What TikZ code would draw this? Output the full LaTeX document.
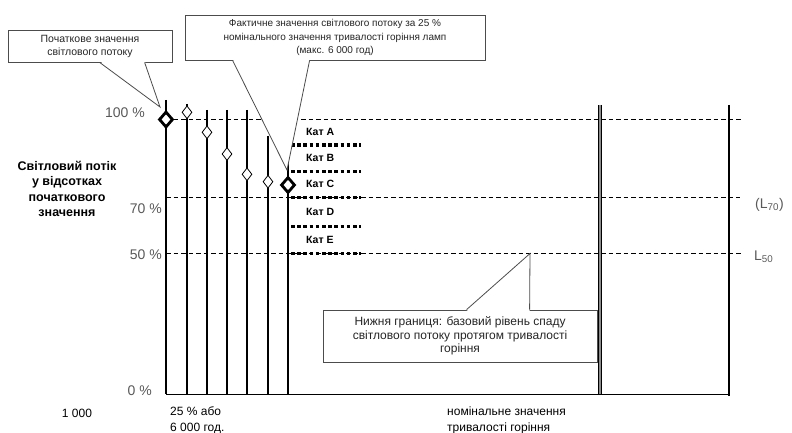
\documentclass[tikz,border=0pt]{standalone}
\usepackage{fontspec}
\setmainfont{Liberation Sans}
\usetikzlibrary{shapes.geometric}

\begin{document}
\begin{tikzpicture}[x=1pt, y=-1pt,
    pct/.style={anchor=east, inner sep=0pt, text=black!65, font=\fontsize{14}{16}\selectfont},
    kat/.style={anchor=west, inner sep=0pt, font=\fontsize{10.5}{12}\selectfont\bfseries},
    level/.style={dash pattern=on 4.5pt off 3pt, line width=1.3pt},
    katline/.style={dash pattern=on 3.6pt off 2.6pt, line width=3.6pt},
    hours/.style={line width=1.6pt},
    smalld/.style={diamond, draw, fill=white, inner sep=0pt, minimum width=10pt, minimum height=13pt, line width=0.8pt},
    bigd/.style={diamond, draw, fill=white, inner sep=0pt, minimum width=14pt, minimum height=16pt, line width=2.8pt},
    note/.style={draw=black!70, fill=white, line width=0.8pt, align=center, inner sep=0pt, text=black!85},
    notetail/.style={draw=black!70, line width=0.8pt}]

    \useasboundingbox (0,0) rectangle (792,433);

    \draw[level] (166,119.5) -- (741,119.5);
    \draw[level] (166,197.5) -- (740,197.5);
    \draw[level] (166,253.5) -- (743,253.5);

    \foreach \x/\top in {166/100, 187/104, 207/110, 227/110, 247/110, 268/136, 288/163}
        \draw[hours] (\x,\top) -- (\x,394);
    \draw[line width=0.9pt] (166,394) -- (729,394);
    \draw[line width=4.4pt] (600,105) -- (600,394);
    \draw[line width=1.6pt, black!45] (600,105) -- (600,394);
    \draw[hours] (729,105) -- (729,396);

    \foreach \y in {145,171.5,197.5,226.5,253.5}
        \draw[katline] (291,\y) -- (361,\y);
    \node[kat] (katA) at (306,131.7) {Кат A};
    \node[kat] (katB) at (306,157.7) {Кат B};
    \node[kat] (katC) at (306,184.3) {Кат C};
    \node[kat] (katD) at (306,212.3) {Кат D};
    \node[kat] (katE) at (306,240) {Кат E};

    \node[bigd] (d0) at (166,119.5) {};
    \node[smalld] (d1) at (187,112.3) {};
    \node[smalld] (d2) at (207,132.3) {};
    \node[smalld] (d3) at (227,154) {};
    \node[smalld] (d4) at (247,174.3) {};
    \node[smalld] (d5) at (268,181.7) {};
    \node[bigd] (d6) at (288,185) {};

    \node[pct] (p100) at (145,113) {100 \%};
    \node[pct] (p70) at (162,209) {70 \%};
    \node[pct] (p50) at (162,255) {50 \%};
    \node[pct] (p0) at (152,391) {0 \%};
    \node[pct, anchor=west] (l70) at (755,205) {(L\textsubscript{70})};
    \node[pct, anchor=west] (l50) at (754,257) {L\textsubscript{50}};

    \node[align=center, font=\fontsize{12.5}{15.5}\selectfont\bfseries] (title) at (67,189) {Світловий потік\\у відсотках\\початкового\\значення};

    \node[font=\fontsize{12}{15}\selectfont] (start) at (77,413) {1 000};
    \node[anchor=west, align=left, inner sep=0pt, font=\fontsize{12}{16}\selectfont] (quarter) at (170,420) {25 \% або\\6 000 год.};
    \node[anchor=west, align=left, inner sep=0pt, font=\fontsize{12}{15.5}\selectfont] (rated) at (447,420.5) {номінальне значення\\тривалості горіння};

    \node[note, minimum width=164pt, minimum height=32pt, font=\fontsize{10.5}{13}\selectfont] (startnote) at (90,46) {Початкове значення\\світлового потоку};
    \coordinate (starttip) at (160,107);
    \fill[white] ([xshift=92pt,yshift=1.5pt]startnote.south west) -- (starttip) -- ([xshift=137pt,yshift=1.5pt]startnote.south west) -- cycle;
    \draw[notetail] ([xshift=92pt]startnote.south west) -- (starttip) -- ([xshift=137pt]startnote.south west);

    \node[note, minimum width=300pt, minimum height=45pt, font=\fontsize{10}{13.5}\selectfont] (factnote) at (335,37.5) {Фактичне значення світлового потоку за 25 \%\\номінального значення тривалості горіння ламп\\(макс. 6 000 год)};
    \coordinate (facttip) at (287,170);
    \fill[white] ([xshift=48pt,yshift=1.5pt]factnote.south west) -- (facttip) -- ([xshift=125pt,yshift=1.5pt]factnote.south west) -- cycle;
    \draw[notetail] ([xshift=48pt]factnote.south west) -- (facttip) -- ([xshift=125pt]factnote.south west);

    \node[note, minimum width=274pt, minimum height=52pt, font=\fontsize{12}{13.5}\selectfont] (limitnote) at (460,336) {Нижня границя: базовий рівень спаду\\світлового потоку протягом тривалості\\горіння};
    \coordinate (limittip) at (530,253.5);
    \fill[white] ([xshift=144pt,yshift=-1.5pt]limitnote.north west) -- (limittip) -- ([xshift=207pt,yshift=-1.5pt]limitnote.north west) -- cycle;
    \draw[notetail] ([xshift=144pt]limitnote.north west) -- (limittip) -- ([xshift=207pt]limitnote.north west);
\end{tikzpicture}
\end{document}
